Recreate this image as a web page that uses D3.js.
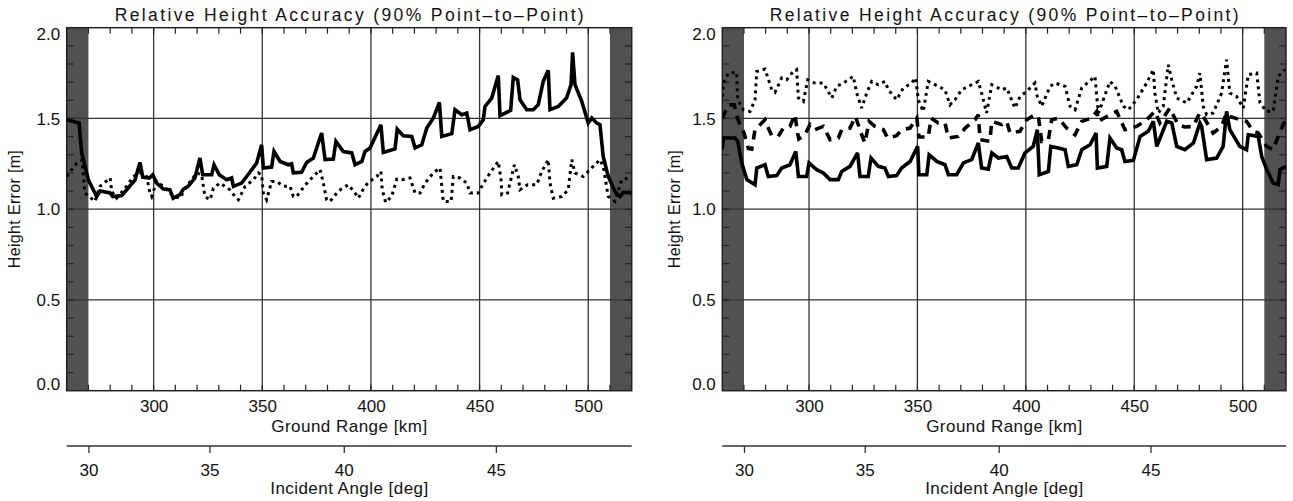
<!DOCTYPE html>
<html>
<head>
<meta charset="utf-8">
<script src="https://cdn.jsdelivr.net/npm/d3@7"></script>
<style>
  body { margin: 0; background: #fff; }
  text { font-family: "Liberation Sans", Arial, sans-serif; fill: #111; }
</style>
</head>
<body>
<div id="wrapper"></div>
<script>
// ---- data ----
const chartTitle = "Relative Height Accuracy (90% Point–to–Point)";
const groundDomain = [260, 520];
const heightDomain = [0, 2];
const groundTicks = [300, 350, 400, 450, 500];
const heightTicks = [0.0, 0.5, 1.0, 1.5, 2.0];
const angleTicks = [30, 35, 40, 45];
// ground range (km) where each incident angle tick sits
const angleGround = [270, 325.7, 387.5, 457.5];
const maskedRanges = [[260, 270], [510, 520]];

// left panel: [ground range km, height error m]
const leftSolid = [
  [260, 1.5], [260.7, 1.49], [265.7, 1.475], [266.9, 1.31], [270, 1.16], [273.8, 1.07], [275.3, 1.1], [280, 1.09],
  [281.2, 1.07], [285.3, 1.075], [287.6, 1.107], [291.4, 1.16], [293.7, 1.258], [295, 1.177], [298, 1.172],
  [299.6, 1.19], [301.4, 1.144], [304.5, 1.111], [307.5, 1.107], [309, 1.06], [312.1, 1.08], [313.6, 1.11],
  [315.9, 1.126], [319, 1.172], [321.3, 1.282], [322.6, 1.19], [326.7, 1.19], [327.8, 1.245], [330.2, 1.19],
  [333.6, 1.162], [335.9, 1.172], [336.7, 1.126], [340.5, 1.144], [342.8, 1.18], [347.4, 1.254], [349.7, 1.355],
  [350.5, 1.227], [354.3, 1.232], [355.4, 1.318], [358.2, 1.263], [362, 1.245], [363.5, 1.25], [364.3, 1.2],
  [368.1, 1.203], [370.4, 1.258], [373.5, 1.282], [377.3, 1.42], [378.9, 1.273], [382.7, 1.276], [383.9, 1.374],
  [387.3, 1.318], [391.2, 1.31], [392.7, 1.245], [395.8, 1.263], [397.3, 1.318], [399.6, 1.337], [404.6, 1.465],
  [405.7, 1.313], [411.1, 1.332], [412.1, 1.441], [414.9, 1.405], [418.8, 1.401], [420.3, 1.337], [423.4, 1.355],
  [425.7, 1.447], [428.7, 1.502], [431.5, 1.588], [432.6, 1.401], [437.2, 1.416], [438.7, 1.548], [441.8, 1.521],
  [444.1, 1.53], [445.6, 1.438], [449.4, 1.456], [451.7, 1.493], [452.5, 1.566], [455.6, 1.612], [458.6, 1.736],
  [459.4, 1.515], [464.3, 1.544], [465.5, 1.726], [467.5, 1.713], [468.6, 1.603], [471.7, 1.548], [474.7, 1.548],
  [477, 1.576], [479.3, 1.704], [481.6, 1.765], [482.4, 1.548], [486.2, 1.566], [490, 1.612], [492.1, 1.686],
  [492.8, 1.864], [493.9, 1.686], [497, 1.594], [500, 1.475], [501.6, 1.502], [503.9, 1.475], [505.4, 1.466],
  [506.9, 1.29], [509.2, 1.181], [512.3, 1.098], [514.6, 1.07], [516.1, 1.093], [520, 1.089]
];
const leftDotted = [
  [260, 1.18], [264.6, 1.254], [267, 1.27], [268.4, 1.089], [273, 1.043], [275.3, 1.126], [280, 1.172], [280.7, 1.098],
  [283, 1.061], [287.6, 1.126], [290.6, 1.18], [293.7, 1.2], [296.8, 1.18], [298.3, 1.089], [299.1, 1.07],
  [301.4, 1.153], [304.5, 1.126], [309.1, 1.07], [312.1, 1.061], [315.2, 1.126], [319.8, 1.2], [322.1, 1.19],
  [323.6, 1.07], [326, 1.052], [327.5, 1.116], [330.5, 1.144], [335.1, 1.107], [337.4, 1.07], [339, 1.052],
  [342.1, 1.126], [345.9, 1.162], [348.2, 1.2], [349.7, 1.19], [350.5, 1.089], [352, 1.052], [354.3, 1.153],
  [356.6, 1.153], [359.7, 1.126], [362.8, 1.126], [364.3, 1.07], [365.8, 1.07], [368.1, 1.107], [371.2, 1.153],
  [376.6, 1.218], [378.1, 1.144], [379.6, 1.052], [381.2, 1.043], [385, 1.1], [389.6, 1.135], [392.7, 1.089],
  [394.2, 1.061], [396.5, 1.111], [398.8, 1.148], [402.7, 1.18], [404.6, 1.208], [405.2, 1.107], [406.8, 1.037],
  [409.5, 1.07], [411.9, 1.166], [414.2, 1.162], [418, 1.172], [420.3, 1.089], [422.6, 1.089], [424.9, 1.144],
  [428.7, 1.2], [431.8, 1.227], [432.6, 1.126], [433.3, 1.043], [436.9, 1.043], [437.9, 1.18], [441, 1.172],
  [444.1, 1.144], [445.6, 1.089], [449.4, 1.089], [451, 1.126], [454.8, 1.2], [458.6, 1.263], [459.9, 1.162],
  [460.2, 1.08], [462.9, 1.089], [466, 1.245], [467.8, 1.18], [468.6, 1.107], [472.1, 1.135], [476.3, 1.135],
  [478.6, 1.208], [481.6, 1.273], [482.4, 1.144], [483.9, 1.061], [487.8, 1.07], [490.8, 1.107], [492.4, 1.273],
  [493.9, 1.2], [497.7, 1.18], [500.8, 1.218], [505.4, 1.273], [506.9, 1.236], [509.2, 1.07], [512.3, 1.043],
  [515.4, 1.162], [518.5, 1.172], [520, 1.17]
];

// right panel
const rightSolid = [
  [260, 1.33], [260.5, 1.392], [265.9, 1.392], [267.1, 1.374], [269, 1.255], [271.3, 1.163], [275.1, 1.135],
  [275.9, 1.227], [279.7, 1.245], [281.2, 1.18], [285.1, 1.185], [287.4, 1.227], [291.2, 1.245], [293.9, 1.318],
  [295.1, 1.18], [298.9, 1.18], [300, 1.255], [303.5, 1.218], [306.6, 1.2], [309.7, 1.163], [313.5, 1.163],
  [315.1, 1.208], [318.9, 1.236], [322.4, 1.31], [323.5, 1.18], [327.3, 1.18], [328.6, 1.282], [332, 1.236],
  [335, 1.227], [336.6, 1.18], [340.4, 1.185], [342.7, 1.227], [346.6, 1.263], [350.1, 1.346], [350.7, 1.19],
  [354.3, 1.19], [355.4, 1.3], [358.9, 1.263], [362.7, 1.245], [364.3, 1.19], [368.1, 1.19], [371.2, 1.255],
  [375, 1.273], [378.1, 1.365], [379.6, 1.227], [382.7, 1.221], [384.3, 1.31], [387.3, 1.282], [391.2, 1.29],
  [393.5, 1.227], [396.5, 1.227], [399.6, 1.31], [403.4, 1.346], [405.3, 1.438], [406.2, 1.19], [410.4, 1.208],
  [411.5, 1.346], [415, 1.337], [418.1, 1.328], [419.6, 1.236], [423.5, 1.245], [425.8, 1.328], [429.6, 1.355],
  [432.4, 1.42], [433, 1.227], [437.3, 1.236], [438.8, 1.392], [441.9, 1.337], [444.2, 1.328], [445.7, 1.263],
  [449.6, 1.269], [452.7, 1.401], [456.5, 1.429], [458.8, 1.484], [460.4, 1.346], [465, 1.484], [467.3, 1.475],
  [469.6, 1.346], [473.4, 1.328], [477.3, 1.365], [480.3, 1.475], [481.1, 1.456], [483.4, 1.273], [488, 1.282],
  [491, 1.346], [492.6, 1.539], [494.1, 1.438], [498.7, 1.346], [501.8, 1.328], [502.6, 1.41], [507.2, 1.401],
  [508.8, 1.29], [511.1, 1.218], [514.1, 1.144], [516.4, 1.135], [517.2, 1.218], [520, 1.236]
];
const rightDashed = [
  [260, 1.5], [262.8, 1.575], [265.5, 1.575], [267, 1.5], [270, 1.42], [272, 1.335], [273.6, 1.331], [275.1, 1.438],
  [279.7, 1.493], [281.2, 1.447], [282.8, 1.405], [285.8, 1.401], [288.1, 1.447], [291.2, 1.456], [293.5, 1.521],
  [294.7, 1.42], [295.3, 1.387], [298.1, 1.41], [300.4, 1.466], [302.7, 1.438], [306.6, 1.456], [309.7, 1.383],
  [313.5, 1.392], [315.1, 1.438], [318.9, 1.447], [321.4, 1.511], [324.3, 1.41], [325.8, 1.365], [327.7, 1.484],
  [330.4, 1.456], [334.3, 1.438], [336.3, 1.392], [340.4, 1.405], [342.7, 1.438], [346.6, 1.447], [349.7, 1.502],
  [350.7, 1.398], [355, 1.398], [356.3, 1.502], [359.6, 1.475], [362.7, 1.475], [364.3, 1.392], [368.9, 1.401],
  [372, 1.447], [376.6, 1.493], [378.1, 1.521], [378.9, 1.383], [383.4, 1.374], [384.3, 1.484], [388.9, 1.466],
  [391.2, 1.484], [392.7, 1.42], [397.3, 1.429], [400.4, 1.493], [404.2, 1.521], [405.8, 1.511], [407.3, 1.374],
  [410.4, 1.383], [411.9, 1.493], [415, 1.502], [418.8, 1.447], [422.7, 1.41], [425.8, 1.484], [430.4, 1.502],
  [432.7, 1.539], [433.5, 1.484], [437.3, 1.511], [441.9, 1.539], [445.7, 1.438], [451.1, 1.456], [455.7, 1.493],
  [459.5, 1.539], [461.8, 1.475], [466.4, 1.557], [470.2, 1.466], [473.3, 1.453], [477.2, 1.456], [480.2, 1.53],
  [481.8, 1.511], [486.4, 1.42], [490.3, 1.456], [492.6, 1.53], [494.1, 1.511], [498.7, 1.493], [501.8, 1.484],
  [504.9, 1.429], [507.2, 1.42], [511, 1.346], [514.1, 1.328], [516.4, 1.401], [520, 1.502]
];
const rightDotted = [
  [260, 1.62], [260.5, 1.695], [262.8, 1.75], [266.6, 1.754], [267.1, 1.603], [269.7, 1.548], [272.8, 1.539],
  [275.1, 1.603], [275.9, 1.759], [279.7, 1.772], [282.8, 1.658], [284.3, 1.644], [287.4, 1.723], [289.7, 1.713],
  [292.7, 1.759], [294.3, 1.769], [295.1, 1.613], [297.4, 1.594], [299.4, 1.713], [302.8, 1.695], [306.6, 1.695],
  [310.5, 1.613], [312.8, 1.677], [315.8, 1.695], [320.4, 1.732], [322, 1.64], [324.3, 1.557], [326.6, 1.64],
  [328.9, 1.704], [331.9, 1.686], [335, 1.704], [336.6, 1.658], [340.4, 1.603], [343.5, 1.668], [347.3, 1.695],
  [349.2, 1.723], [350.4, 1.603], [352.7, 1.539], [355, 1.704], [358.1, 1.686], [362.7, 1.658], [365, 1.575],
  [367.3, 1.603], [370.4, 1.658], [373.5, 1.677], [378.1, 1.704], [379.6, 1.64], [381.9, 1.53], [384.3, 1.686],
  [388.9, 1.658], [391.2, 1.668], [395, 1.557], [397.3, 1.621], [400.4, 1.649], [404.2, 1.695], [405.3, 1.621],
  [407.3, 1.567], [411.2, 1.677], [413.5, 1.695], [418.1, 1.677], [420.4, 1.567], [422.7, 1.548], [425.8, 1.668],
  [431.9, 1.732], [432.7, 1.621], [433.5, 1.53], [438.8, 1.704], [441.2, 1.677], [445, 1.567], [447.3, 1.548],
  [451.1, 1.603], [455.7, 1.695], [458.8, 1.769], [459.5, 1.64], [461.1, 1.53], [463.4, 1.567], [465.7, 1.796],
  [467.3, 1.713], [469.6, 1.613], [474.2, 1.585], [478.8, 1.677], [480.3, 1.75], [481.8, 1.567], [483.4, 1.521],
  [486.4, 1.53], [490.3, 1.64], [492.6, 1.824], [494.1, 1.64], [497.2, 1.621], [500.3, 1.557], [502.6, 1.741],
  [506.5, 1.75], [508, 1.585], [511, 1.539], [514.1, 1.539], [516.4, 1.732], [519.5, 1.769]
];

// line styles
const solidStyle = { width: 3.6, dash: null };
const dashedStyle = { width: 3.6, dash: "9,7" };
const dottedStyle = { width: 3, dash: "3,4" };

// 1. dimensions
const dimensions = {
  width: 1293,
  height: 501,
  top: 27.7,
  bottom: 390.7,
  angleAxisY: 446,
};

const wrapper = d3
  .select("#wrapper")
  .append("svg")
  .attr("width", dimensions.width)
  .attr("height", dimensions.height);

wrapper.append("rect").attr("width", dimensions.width).attr("height", dimensions.height).attr("fill", "#fff");

function drawPanel(id, left, right, series, yLabelX) {
  const xScale = d3.scaleLinear().domain(groundDomain).range([left, right]);
  const yScale = d3.scaleLinear().domain(heightDomain).range([dimensions.bottom, dimensions.top]);
  const angleScale = d3.scaleLinear().domain(angleTicks).range(angleGround.map((g) => xScale(g)));

  const panel = wrapper.append("g");

  panel
    .append("clipPath")
    .attr("id", "clip-" + id)
    .append("rect")
    .attr("x", left)
    .attr("y", dimensions.top)
    .attr("width", right - left)
    .attr("height", dimensions.bottom - dimensions.top);

  // masked swath edges
  panel
    .selectAll(".mask")
    .data(maskedRanges)
    .join("rect")
    .attr("x", (d) => xScale(d[0]))
    .attr("y", dimensions.top)
    .attr("width", (d) => xScale(d[1]) - xScale(d[0]))
    .attr("height", dimensions.bottom - dimensions.top)
    .attr("fill", "#515151");

  // grid
  panel
    .selectAll(".vgrid")
    .data(groundTicks)
    .join("line")
    .attr("x1", (d) => xScale(d))
    .attr("x2", (d) => xScale(d))
    .attr("y1", dimensions.top)
    .attr("y2", dimensions.bottom)
    .attr("stroke", "#333")
    .attr("stroke-width", 1.3);

  panel
    .selectAll(".hgrid")
    .data(heightTicks.filter((d) => d > 0 && d < 2))
    .join("line")
    .attr("x1", left)
    .attr("x2", right)
    .attr("y1", (d) => yScale(d))
    .attr("y2", (d) => yScale(d))
    .attr("stroke", "#333")
    .attr("stroke-width", 1.3);

  // minor ticks, pointing inward
  const xMinor = d3.range(270, 520, 10);
  const yMinor = d3.range(1, 20).map((d) => d / 10);
  const ticks = panel.append("g").attr("stroke", "#222").attr("stroke-width", 1.2);
  [dimensions.top, dimensions.bottom].forEach((edge, i) => {
    ticks
      .selectAll(".xt" + i)
      .data(xMinor)
      .join("line")
      .attr("x1", (d) => xScale(d))
      .attr("x2", (d) => xScale(d))
      .attr("y1", edge)
      .attr("y2", edge + (i == 0 ? 6 : -6));
  });
  [left, right].forEach((edge, i) => {
    ticks
      .selectAll(".yt" + i)
      .data(yMinor)
      .join("line")
      .attr("x1", edge)
      .attr("x2", edge + (i == 0 ? 7 : -7))
      .attr("y1", (d) => yScale(d))
      .attr("y2", (d) => yScale(d));
  });

  // frame
  panel
    .append("rect")
    .attr("x", left)
    .attr("y", dimensions.top)
    .attr("width", right - left)
    .attr("height", dimensions.bottom - dimensions.top)
    .attr("fill", "none")
    .attr("stroke", "#222")
    .attr("stroke-width", 1.5);

  // curves
  const line = d3
    .line()
    .x((d) => xScale(d[0]))
    .y((d) => yScale(d[1]));

  panel
    .append("g")
    .attr("clip-path", `url(#clip-${id})`)
    .selectAll("path")
    .data(series)
    .join("path")
    .attr("d", (d) => line(d.data))
    .attr("fill", "none")
    .attr("stroke", "#000")
    .attr("stroke-width", (d) => d.style.width)
    .attr("stroke-dasharray", (d) => d.style.dash)
    .attr("stroke-linejoin", "miter")
    .attr("stroke-miterlimit", 3);

  // ground range axis labels
  const xAxis = panel
    .append("g")
    .attr("transform", `translate(0,${dimensions.bottom})`)
    .call(d3.axisBottom(xScale).tickValues(groundTicks).tickSize(0).tickPadding(9));
  xAxis.select(".domain").remove();
  xAxis.selectAll("text").style("font-size", "17px").style("font-family", "Liberation Sans, Arial, sans-serif");

  // height axis labels
  const yAxis = panel
    .append("g")
    .attr("transform", `translate(${left},0)`)
    .call(d3.axisLeft(yScale).tickValues(heightTicks).tickSize(0).tickPadding(6.5).tickFormat(d3.format(".1f")));
  yAxis.select(".domain").remove();
  yAxis
    .selectAll("text")
    .style("font-size", "17px")
    .style("font-family", "Liberation Sans, Arial, sans-serif")
    .attr("dy", (d) => (d == 0 ? "-0.05em" : d == 2 ? "0.72em" : "0.34em"));

  // incident angle axis
  panel
    .append("line")
    .attr("x1", left)
    .attr("x2", right)
    .attr("y1", dimensions.angleAxisY)
    .attr("y2", dimensions.angleAxisY)
    .attr("stroke", "#333")
    .attr("stroke-width", 1.3);

  const angleAxis = panel
    .append("g")
    .attr("transform", `translate(0,${dimensions.angleAxisY})`)
    .call(d3.axisBottom(angleScale).tickValues(angleTicks).tickSize(7).tickPadding(11));
  angleAxis.select(".domain").remove();
  angleAxis.selectAll("line").attr("stroke", "#333").attr("stroke-width", 1.3);
  angleAxis.selectAll("text").style("font-size", "17px").style("font-family", "Liberation Sans, Arial, sans-serif");

  // titles
  const mid = (left + right) / 2;
  panel
    .append("text")
    .attr("x", mid)
    .attr("y", 20.7)
    .attr("text-anchor", "middle")
    .attr("textLength", 469)
    .attr("lengthAdjust", "spacing")
    .style("font-size", "17.5px")
    .text(chartTitle);

  panel
    .append("text")
    .attr("x", mid)
    .attr("y", 431.5)
    .attr("text-anchor", "middle")
    .attr("textLength", 156)
    .attr("lengthAdjust", "spacing")
    .style("font-size", "17px")
    .text("Ground Range [km]");

  panel
    .append("text")
    .attr("x", mid)
    .attr("y", 494)
    .attr("text-anchor", "middle")
    .attr("textLength", 158)
    .attr("lengthAdjust", "spacing")
    .style("font-size", "17px")
    .text("Incident Angle [deg]");

  const yMid = (dimensions.top + dimensions.bottom) / 2;
  panel
    .append("text")
    .attr("transform", `translate(${yLabelX},${yMid}) rotate(-90)`)
    .attr("text-anchor", "middle")
    .attr("textLength", 118)
    .attr("lengthAdjust", "spacing")
    .style("font-size", "16px")
    .text("Height Error [m]");
}

drawPanel(
  "left",
  66.7,
  631.7,
  [
    { data: leftDotted, style: dottedStyle },
    { data: leftSolid, style: solidStyle },
  ],
  20
);

drawPanel(
  "right",
  722.3,
  1286,
  [
    { data: rightDotted, style: dottedStyle },
    { data: rightDashed, style: dashedStyle },
    { data: rightSolid, style: solidStyle },
  ],
  680
);
</script>
</body>
</html>
